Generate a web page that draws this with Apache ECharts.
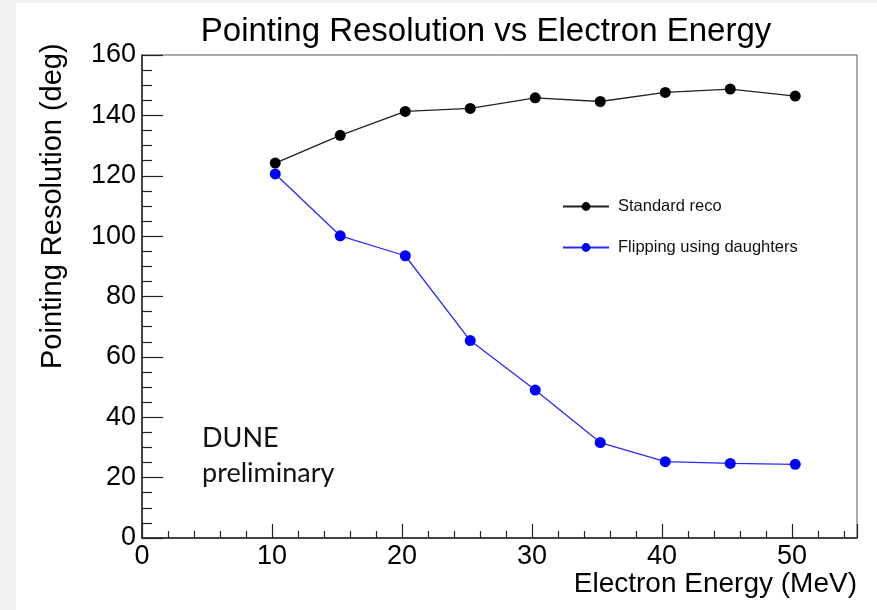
<!DOCTYPE html>
<html>
<head>
<meta charset="utf-8">
<script src="https://cdn.jsdelivr.net/npm/echarts@6/dist/echarts.min.js"></script>
<style>
  html, body { margin: 0; padding: 0; background: #f2f1ef; }
  #chart { position: absolute; left: 16px; top: 3px; width: 861px; height: 607px; background: #fff; }
</style>
</head>
<body>
<div id="chart"></div>
<script>
// energies (MeV), points sit a bit right of the integer ticks
const energy = [10.25, 15.25, 20.25, 25.25, 30.25, 35.25, 40.25, 45.25, 50.25];
const standardReco = [124.2, 133.4, 141.3, 142.3, 145.8, 144.6, 147.6, 148.7, 146.4];
const flipping = [120.6, 100.1, 93.5, 65.4, 49.0, 31.6, 25.3, 24.7, 24.4];

const font = '"Liberation Sans", Arial, sans-serif';
const chart = echarts.init(document.getElementById('chart'));

const pairs = (ys) => energy.map((x, i) => [x, ys[i]]);

const option = {
  animation: false,
  textStyle: { fontFamily: font },
  grid: {
    left: 126, right: 20, top: 52, bottom: 72,
    show: true, borderColor: '#555', borderWidth: 1, backgroundColor: 'transparent'
  },
  legend: {
    orient: 'vertical',
    left: 541, top: 190,
    itemWidth: 46, itemHeight: 11, itemGap: 24,
    textStyle: { fontFamily: font, fontSize: 16.5, color: '#111', padding: [0, 0, 0, 4] },
    data: ['Standard reco', 'Flipping using daughters']
  },
  xAxis: {
    type: 'value', min: 0, max: 55, interval: 10,
    axisLine: { lineStyle: { color: '#222', width: 1.5 } },
    axisTick: { inside: true, length: 14, lineStyle: { color: '#222', width: 1.2 } },
    minorTick: { show: true, splitNumber: 5, length: 7, lineStyle: { color: '#222', width: 1.2 } },
    splitLine: { show: false },
    axisLabel: { color: '#000', fontSize: 27, margin: 5, fontFamily: font, showMaxLabel: false }
  },
  yAxis: {
    type: 'value', min: 0, max: 160, interval: 20,
    axisLine: { show: true, lineStyle: { color: '#222', width: 1.5 } },
    axisTick: { show: true, inside: true, length: 21, lineStyle: { color: '#222', width: 1.2 } },
    minorTick: { show: true, splitNumber: 4, length: 10, lineStyle: { color: '#222', width: 1.2 } },
    splitLine: { show: false },
    axisLabel: { color: '#000', fontSize: 27, margin: 6, fontFamily: font }
  },
  series: [
    {
      name: 'Standard reco', type: 'line', data: pairs(standardReco),
      symbol: 'circle', symbolSize: 11,
      lineStyle: { color: '#222', width: 1.3 },
      itemStyle: { color: '#000' }
    },
    {
      name: 'Flipping using daughters', type: 'line', data: pairs(flipping),
      symbol: 'circle', symbolSize: 11,
      lineStyle: { color: '#2a2aff', width: 1.3 },
      itemStyle: { color: '#0000ff' }
    }
  ],
  graphic: [
    { type: 'text', x: 470, y: 29,
      style: { text: 'Pointing Resolution vs Electron Energy', font: '33px ' + font, fill: '#000',
        textAlign: 'center', textVerticalAlign: 'middle' } },
    { type: 'text', x: 37, y: 366, rotation: Math.PI / 2,
      style: { text: 'Pointing Resolution (deg)', font: '29px ' + font, fill: '#000',
        textAlign: 'left', textVerticalAlign: 'middle' } },
    { type: 'text', x: 841, y: 581,
      style: { text: 'Electron Energy (MeV)', font: '28px ' + font, fill: '#000',
        textAlign: 'right', textVerticalAlign: 'middle' } },
    { type: 'text', x: 186, y: 435,
      style: { text: 'DUNE', font: '27px Lato, sans-serif', fill: '#111',
        textAlign: 'left', textVerticalAlign: 'middle' } },
    { type: 'text', x: 186, y: 470,
      style: { text: 'preliminary', font: '27px Lato, sans-serif', fill: '#111',
        textAlign: 'left', textVerticalAlign: 'middle' } }
  ]
};

chart.setOption(option);
</script>
</body>
</html>
